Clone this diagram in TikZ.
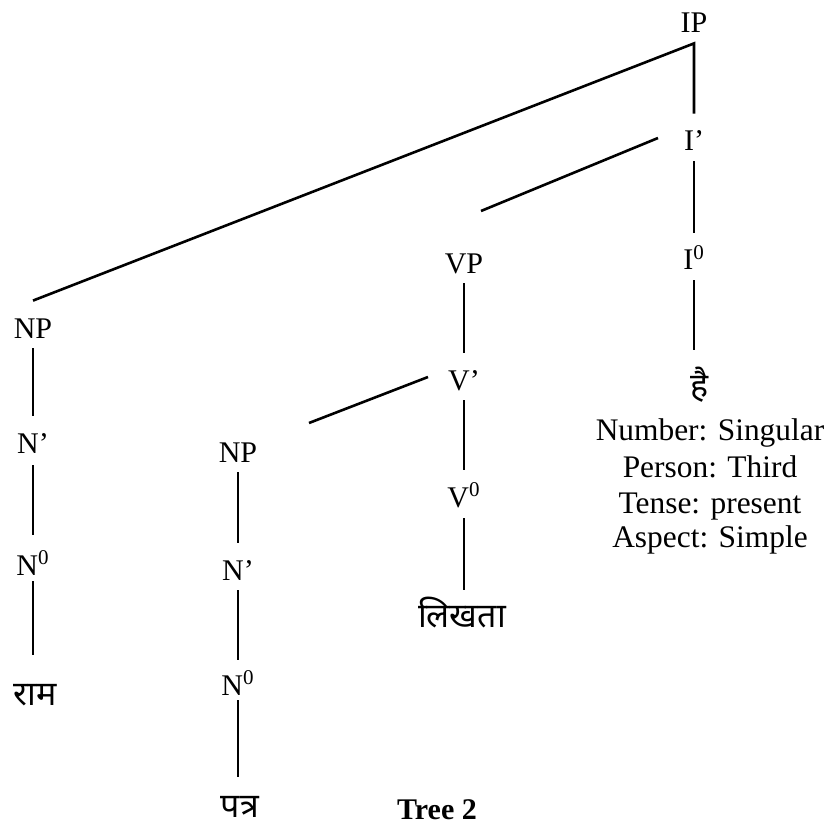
\documentclass[tikz,border=0pt]{standalone}
\usepackage{fontspec}
\setmainfont{Liberation Serif}
\newfontfamily\devfont[Script=Devanagari]{Noto Sans}
\begin{document}
\begin{tikzpicture}[x=0.5pt,y=-0.5pt,
  lab/.style={inner sep=0pt, text height=10pt, text depth=0pt, font=\fontsize{15}{18}\selectfont},
  dev/.style={inner sep=0pt, text height=10pt, text depth=0pt, font=\devfont\fontsize{17}{20}\selectfont},
  feat/.style={inner sep=0pt, text height=10pt, text depth=0pt, font=\fontsize{15.7}{18}\selectfont},
  branch/.style={line width=1.3pt, line cap=butt},
  edge/.style={branch, shorten <=5pt, shorten >=8.5pt}]
\useasboundingbox (0,0) rectangle (831,829);
% IP column
\node[lab] (IP) at (694,23) {IP};
\node[lab] (I1) at (694,141) {I’};
\node[lab] (I0) at (694,260) {I\textsuperscript{0}};
\node[dev] (hai) at (700,387) {है};
\node[feat] (f1) at (710,430) {Number: Singular};
\node[feat] (f2) at (710,467) {Person: Third};
\node[feat] (f3) at (710,503) {Tense: present};
\node[feat] (f4) at (710,537) {Aspect: Simple};
% VP column
\node[lab] (VP) at (464,263) {VP};
\node[lab] (V1) at (464,380) {V’};
\node[lab] (V0) at (464,497) {V\textsuperscript{0}};
\node[dev] (likh) at (462,617) {लिखता};
% first NP
\node[lab] (NPa) at (33,328) {NP};
\node[lab] (Na1) at (33,443) {N’};
\node[lab] (Na0) at (33,565) {N\textsuperscript{0}};
\node[dev] (ram) at (35,695) {राम};
% second NP
\node[lab] (NPb) at (238,452) {NP};
\node[lab] (Nb1) at (238,570) {N’};
\node[lab] (Nb0) at (238,685) {N\textsuperscript{0}};
\node[dev] (patra) at (240,807) {पत्र};
% caption
\node[inner sep=0pt, font=\bfseries\fontsize{15}{18}\selectfont] (cap) at (437,810) {Tree 2};
% free ends
\coordinate (Iend) at (481,211);
\coordinate (Vend) at (309,423);
% connectors
\draw[branch, line join=miter] ([yshift=8.5pt]NPa.north) -- ([yshift=-5pt]IP.south) -- ([yshift=8.5pt]I1.north);
\draw[branch] ([xshift=-18pt,yshift=1.5pt]I1.center) -- (Iend);
\draw[edge] (I1.south) -- (I0.north);
\draw[branch, shorten <=5pt, shorten >=13.5pt] (I0.south) -- (I0.south |- hai.north);
\draw[branch] ([xshift=-18pt,yshift=1.5pt]V1.center) -- (Vend);
\draw[edge] (VP.south) -- (V1.north);
\draw[edge] (V1.south) -- (V0.north);
\draw[branch, shorten <=5.5pt, shorten >=8.5pt] (V0.south) -- (V0.south |- likh.north);
\draw[edge] (NPa.south) -- (Na1.north);
\draw[branch, shorten <=6pt, shorten >=10pt] (Na1.south) -- (Na0.north);
\draw[branch, shorten <=3pt, shorten >=15pt] (Na0.south) -- (Na0.south |- ram.north);
\draw[edge] (NPb.south) -- (Nb1.north);
\draw[branch, shorten <=5pt, shorten >=7.5pt] (Nb1.south) -- (Nb0.north);
\draw[branch, shorten <=2.5pt, shorten >=10pt] (Nb0.south) -- (Nb0.south |- patra.north);
\end{tikzpicture}
\end{document}
